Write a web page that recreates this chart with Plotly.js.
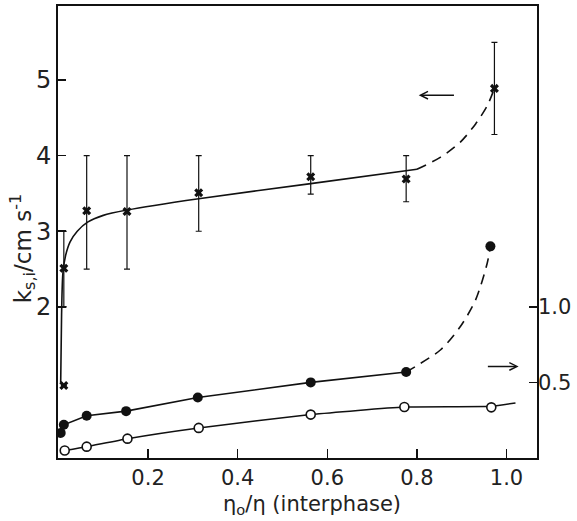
<!DOCTYPE html>
<html>
<head>
<meta charset="utf-8">
<script src="https://cdn.plot.ly/plotly-3.0.1.min.js"></script>
<style>
  html, body { margin: 0; padding: 0; background: #fff; }
  #chart { width: 577px; height: 521px; }
</style>
</head>
<body>
<div id="chart"></div>
<script>
// Interfacial rate constant k_s,i (left axis, crosses with error bars)
const ksX      = [0.012, 0.012, 0.063, 0.153, 0.313, 0.563, 0.776, 0.973];
const ksY      = [0.96, 2.51, 3.27, 3.26, 3.51, 3.72, 3.69, 4.89];
const ksErrUp  = [0, 0.49, 0.73, 0.74, 0.49, 0.28, 0.31, 0.61];
const ksErrLo  = [0, 0.51, 0.77, 0.76, 0.51, 0.23, 0.30, 0.61];

// Drawn trend for k_s,i: solid part, then dashed continuation
const ksFitX     = [0.005, 0.007, 0.010, 0.016, 0.026, 0.042, 0.065, 0.100, 0.153, 0.313, 0.563, 0.800];
const ksFitY     = [1.00, 1.90, 2.45, 2.68, 2.86, 3.00, 3.12, 3.21, 3.28, 3.43, 3.63, 3.82];
const ksDashX    = [0.800, 0.853, 0.897, 0.931, 0.957, 0.973];
const ksDashY    = [3.82, 3.98, 4.18, 4.42, 4.66, 4.89];

// Right-axis series: filled circles
const fillX      = [0.005, 0.012, 0.063, 0.151, 0.311, 0.563, 0.776, 0.964];
const fillY      = [0.166, 0.22, 0.28, 0.31, 0.40, 0.50, 0.569, 1.40];
const fillDashX  = [0.776, 0.797, 0.853, 0.897, 0.931, 0.957, 0.964];
const fillDashY  = [0.569, 0.606, 0.716, 0.87, 1.046, 1.29, 1.40];

// Right-axis series: open circles
const openX      = [0.014, 0.063, 0.154, 0.313, 0.563, 0.772, 0.966];
const openY      = [0.05, 0.075, 0.128, 0.199, 0.287, 0.337, 0.335];
const openLineX  = [0.014, 0.063, 0.154, 0.313, 0.563, 0.772, 0.966, 1.020];
const openLineY  = [0.05, 0.075, 0.128, 0.199, 0.287, 0.337, 0.342, 0.364];

// Axis ticks
const xTicks  = [0.2, 0.4, 0.6, 0.8, 1.0];
const xLabels = ['0.2', '0.4', '0.6', '0.8', '1.0'];
const yTicks  = [2, 3, 4, 5];
const y2Ticks = [0.5, 1.0];
const y2Labels = ['0.5', '1.0'];

const ink = '#111';
const face = '"DejaVu Sans", "Liberation Sans", sans-serif';

const traces = [
  { x: ksFitX, y: ksFitY, mode: 'lines', line: { color: ink, width: 1.6, shape: 'spline', smoothing: 0.8 }, hoverinfo: 'skip' },
  { x: ksDashX, y: ksDashY, mode: 'lines', line: { color: ink, width: 1.6, dash: '10px,7px', shape: 'spline', smoothing: 0.8 }, hoverinfo: 'skip' },
  { x: ksX, y: ksY, mode: 'markers',
    marker: { symbol: 'x', size: 8, color: ink },
    error_y: { type: 'data', symmetric: false, array: ksErrUp, arrayminus: ksErrLo, color: ink, thickness: 1.2, width: 3 } },

  { x: fillX.slice(0, 7), y: fillY.slice(0, 7), yaxis: 'y2', mode: 'lines', line: { color: ink, width: 1.6 }, hoverinfo: 'skip' },
  { x: fillDashX, y: fillDashY, yaxis: 'y2', mode: 'lines', line: { color: ink, width: 1.6, dash: '10px,7px', shape: 'spline', smoothing: 0.8 }, hoverinfo: 'skip' },
  { x: fillX, y: fillY, yaxis: 'y2', mode: 'markers', marker: { symbol: 'circle', size: 10, color: ink } },

  { x: openLineX, y: openLineY, yaxis: 'y2', mode: 'lines', line: { color: ink, width: 1.5, shape: 'spline', smoothing: 0.5 }, hoverinfo: 'skip' },
  { x: openX, y: openY, yaxis: 'y2', mode: 'markers', marker: { symbol: 'circle', size: 9, color: '#fff', line: { color: ink, width: 1.6 } } }
];

const layout = {
  width: 577, height: 521,
  margin: { l: 58, r: 40, t: 6, b: 63 },
  paper_bgcolor: '#fff', plot_bgcolor: '#fff',
  showlegend: false,
  xaxis: {
    range: [-0.001, 1.068], tickvals: xTicks, ticktext: xLabels,
    ticks: 'inside', ticklen: 9, tickwidth: 1.5, tickcolor: ink,
    showline: true, linewidth: 2, linecolor: ink, mirror: true,
    showgrid: false, zeroline: false,
    tickfont: { family: face, size: 21, color: '#222' }
  },
  yaxis: {
    range: [0, 5.98], tickvals: yTicks,
    ticks: 'inside', ticklen: 8, tickwidth: 1.5, tickcolor: ink,
    showline: true, linewidth: 2, linecolor: ink, mirror: true,
    showgrid: false, zeroline: false,
    tickfont: { family: face, size: 24, color: '#222' }
  },
  yaxis2: {
    overlaying: 'y', side: 'right', range: [0, 2.99],
    tickvals: y2Ticks, ticktext: y2Labels,
    ticks: 'inside', ticklen: 8, tickwidth: 1.5, tickcolor: ink,
    showline: false, showgrid: false, zeroline: false,
    tickfont: { family: face, size: 21, color: '#222' }
  },
  annotations: [
    { xref: 'paper', yref: 'paper', x: -0.075, y: 0.462, textangle: -90,
      text: 'k<sub>s,i</sub>/cm s<sup>-1</sup>', showarrow: false,
      font: { family: face, size: 23, color: '#222' }, xanchor: 'center', yanchor: 'middle' },
    { xref: 'paper', yref: 'paper', x: 0.53, y: -0.103,
      text: 'η<sub>o</sub>/η (interphase)', showarrow: false,
      font: { family: face, size: 21, color: '#222' }, xanchor: 'center', yanchor: 'middle' },
    // axis-assignment arrows
    { xref: 'x', yref: 'y', axref: 'x', ayref: 'y', x: 0.804, y: 4.80, ax: 0.886, ay: 4.80,
      text: '', showarrow: true, arrowhead: 5, arrowsize: 1, arrowwidth: 1.5, arrowcolor: ink },
    { xref: 'x', yref: 'y2', axref: 'x', ayref: 'y2', x: 1.027, y: 0.606, ax: 0.955, ay: 0.606,
      text: '', showarrow: true, arrowhead: 5, arrowsize: 1, arrowwidth: 1.5, arrowcolor: ink }
  ]
};

Plotly.newPlot('chart', traces, layout, { staticPlot: true, displayModeBar: false });
</script>
</body>
</html>
